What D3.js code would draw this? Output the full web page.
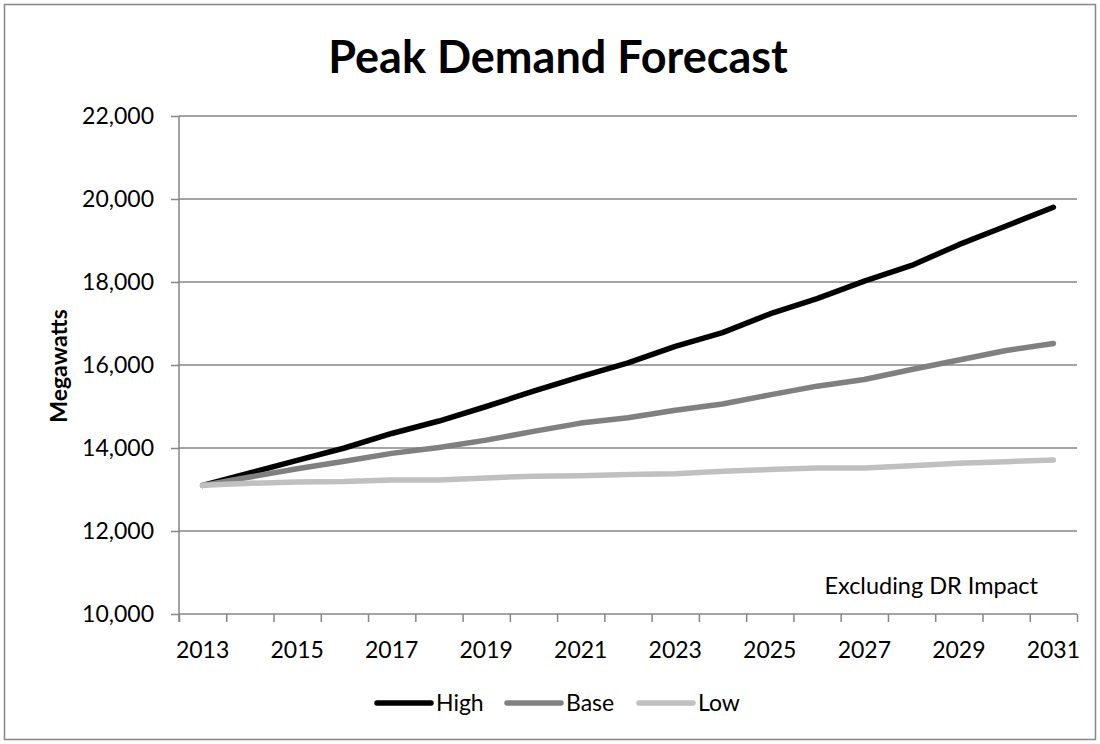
<!DOCTYPE html>
<html>
<head>
<meta charset="utf-8">
<script src="https://cdn.jsdelivr.net/npm/d3@7"></script>
<style>
  html, body { margin: 0; padding: 0; background: #fff; }
  svg { display: block; }
  text { font-family: Lato, "Open Sans", "DejaVu Sans", sans-serif; fill: #000; }
</style>
</head>
<body>
<svg id="chart" width="1100" height="744"></svg>
<script>
const years = [2013,2014,2015,2016,2017,2018,2019,2020,2021,2022,2023,2024,2025,2026,2027,2028,2029,2030,2031];
const high = [13100,13400,13700,14000,14350,14650,15000,15370,15720,16050,16450,16780,17230,17600,18020,18400,18900,19350,19800];
const base = [13100,13300,13500,13680,13870,14010,14190,14400,14600,14730,14910,15060,15280,15490,15650,15890,16120,16350,16520];
const low  = [13100,13150,13180,13190,13230,13230,13280,13320,13330,13360,13380,13440,13480,13520,13520,13570,13630,13670,13710];
const seriesNames = ["High","Base","Low"];
const seriesColors = ["#000000","#808080","#c0c0c0"];
const yTicks = [10000,12000,14000,16000,18000,20000,22000];
const xLabelYears = [2013,2015,2017,2019,2021,2023,2025,2027,2029,2031];
const titleText = "Peak Demand Forecast";
const yTitle = "Megawatts";
const note = "Excluding DR Impact";

(function () {
const series = [high, base, low];
const svg = d3.select("#chart");

// outer border
svg.append("rect").attr("x",4.5).attr("y",4.5).attr("width",1091).attr("height",735)
  .attr("fill","#fff").attr("stroke","#868686").attr("stroke-width",1.5);

const pLeft = 179, pRight = 1077, pTop = 116, pBottom = 614;
const xb = d3.scaleLinear().domain([0, years.length]).range([pLeft, pRight]);
const x = i => xb(i + 0.5);
const y = d3.scaleLinear().domain([10000, 22000]).range([pBottom, pTop]);

// gridlines + y axis
const yAxis = d3.axisLeft(y).tickValues(yTicks).tickFormat(d3.format(",")).tickSize(8).tickPadding(17);
const gy = svg.append("g").attr("transform", `translate(${pLeft},0)`).call(yAxis);
gy.select(".domain").remove();
gy.selectAll(".tick line").attr("stroke","#868686").attr("stroke-width",1.5);
gy.selectAll(".tick text").attr("font-size",23).style("font-family","Lato, sans-serif");
svg.append("g").selectAll("line").data(yTicks).join("line")
  .attr("x1", pLeft).attr("x2", pRight).attr("y1", d => y(d)).attr("y2", d => y(d))
  .attr("stroke","#868686").attr("stroke-width",1.5);
svg.append("line").attr("x1",pLeft).attr("x2",pLeft).attr("y1",pTop).attr("y2",pBottom+8)
  .attr("stroke","#868686").attr("stroke-width",1.5);

// x axis tick marks between categories
const gx = svg.append("g").attr("transform", `translate(0,${pBottom})`)
  .call(d3.axisBottom(xb).tickValues(d3.range(0, years.length + 1)).tickFormat("").tickSize(8));
gx.select(".domain").remove();
gx.selectAll(".tick line").attr("stroke","#868686").attr("stroke-width",1.5);
svg.append("g").selectAll("text").data(xLabelYears).join("text")
  .attr("x", d => x(years.indexOf(d))).attr("y", 658)
  .attr("text-anchor","middle").attr("font-size",23).text(d => d);

// lines
const line = d3.line().x((d,i) => x(i)).y(d => y(d));
series.forEach((s, k) => {
  svg.append("path").datum(s).attr("d", line).attr("fill","none")
    .attr("stroke", seriesColors[k]).attr("stroke-width", 5.5)
    .attr("stroke-linejoin","round").attr("stroke-linecap","round");
});

// title
svg.append("text").attr("x", 558).attr("y", 73).attr("text-anchor","middle")
  .attr("font-size", 45).attr("font-weight","bold").text(titleText);

// y title
svg.append("text").attr("transform","translate(67,366) rotate(-90)").attr("text-anchor","middle")
  .attr("font-size",23).attr("font-weight","bold").text(yTitle);

// note
svg.append("text").attr("x", 1038).attr("y", 594).attr("text-anchor","end")
  .attr("font-size",23.5).text(note);

// legend
const legX = [377, 507, 639];
const lg = svg.append("g");
seriesNames.forEach((n, k) => {
  lg.append("line").attr("x1", legX[k]).attr("x2", legX[k] + 54).attr("y1", 703).attr("y2", 703)
    .attr("stroke", seriesColors[k]).attr("stroke-width", 5.5).attr("stroke-linecap","round");
  lg.append("text").attr("x", legX[k] + 59).attr("y", 711).attr("font-size", 23).text(n);
});
})();
</script>
</body>
</html>
